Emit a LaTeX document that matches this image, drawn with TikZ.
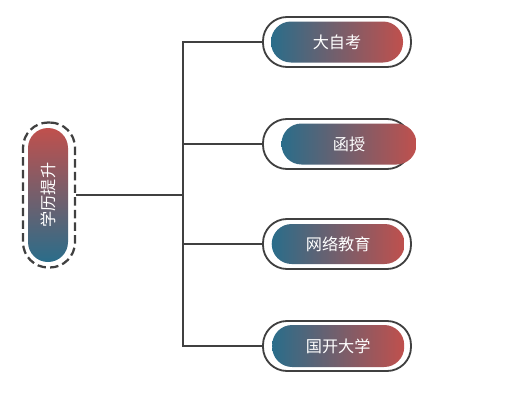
\documentclass[tikz,border=0pt]{standalone}
\usepackage{fontspec}
\newfontfamily\cjk{Noto Sans CJK SC}
\usepackage{xcolor}
\usepackage{tikz}
\usetikzlibrary{positioning}

\definecolor{pillblue}{HTML}{2A6D8A}
\definecolor{pillred}{HTML}{C0504D}
\definecolor{linegray}{HTML}{404040}

\begin{document}
\begin{tikzpicture}[
    pillbase/.style={rectangle, rounded corners=0.5cm, text=white, font=\cjk\fontsize{11.5}{13}\selectfont, inner sep=0pt, minimum height=1.025cm},
    pill/.style={pillbase, left color=pillblue, right color=pillred},
    vpill/.style={pillbase, top color=pillred, bottom color=pillblue},
    frame/.style={rectangle, rounded corners=0.6cm, draw=linegray, fill=white, line width=1.3pt, minimum width=3.7cm, minimum height=1.25cm},
    dashframe/.style={rectangle, rounded corners=0.63cm, draw=linegray, fill=white, line width=1.6pt, dash pattern=on 6pt off 3pt, minimum width=1.3cm, minimum height=3.625cm},
    link/.style={draw=linegray, line width=1.2pt}
]
\useasboundingbox (0,0) rectangle (12.7,-10.275);

% Left: root
\node[dashframe] (rootframe) at (1.225,-4.875) {};
\node[vpill, rotate=90, minimum width=3.35cm, minimum height=1cm] (root) at (1.2,-4.875) {学历提升};

% Right: four branches
\node[frame] (out1) at (8.425,-1.05) {};
\node[frame] (out2) at (8.425,-3.6) {};
\node[frame] (out3) at (8.425,-6.1) {};
\node[frame] (out4) at (8.425,-8.65) {};

\node[pill, minimum width=3.3cm] (zk) at (out1) {大自考};
\node[pill, minimum width=3.375cm, xshift=0.3cm] (hs) at (out2) {函授};
\node[pill, minimum width=3.325cm, minimum height=1cm, xshift=0.03cm] (wl) at (out3) {网络教育};
\node[pill, minimum width=3.3cm, minimum height=1.05cm, xshift=0.03cm] (gk) at (out4) {国开大学};

% Connectors
\coordinate (trunk) at (4.575,-4.875);
\draw[link] (rootframe.east) -- (trunk);
\draw[link] (trunk) |- (out1.west);
\draw[link] (trunk) |- (out2.west);
\draw[link] (trunk) |- (out3.west);
\draw[link] (trunk) |- (out4.west);

\end{tikzpicture}
\end{document}
